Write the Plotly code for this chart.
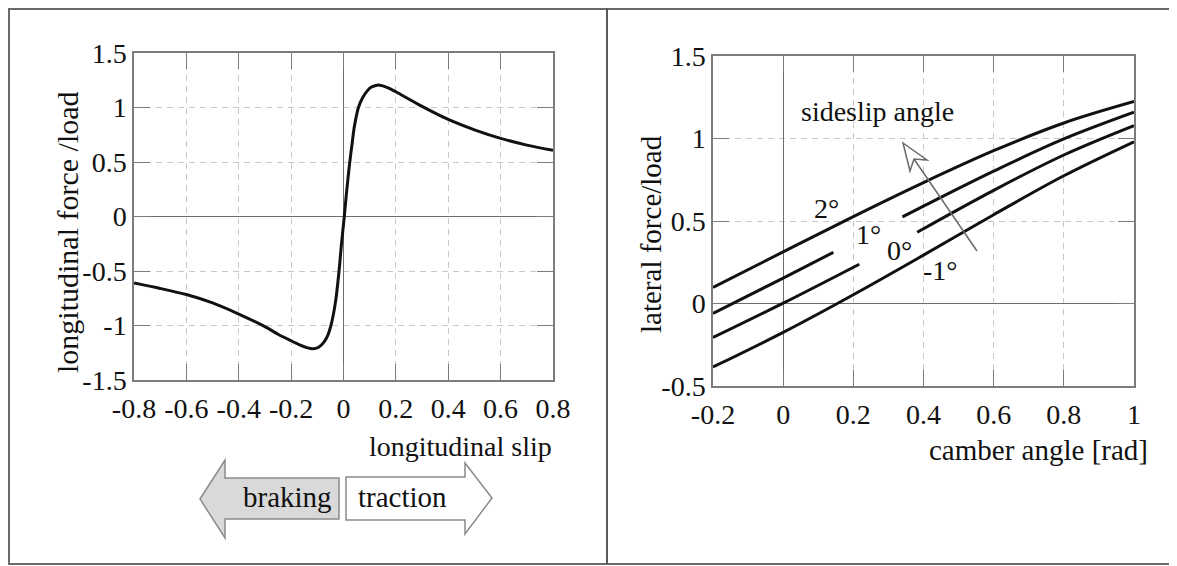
import plotly.graph_objects as go

# The page places the figure 8 px from the top-left corner (default body margin),
# so the figure covers page pixels 8..1177 x 8..566.
PAGE_W, PAGE_H = 1177, 566
OFF = 8
W, H = PAGE_W - OFF, PAGE_H - OFF
FONT = "Liberation Serif"
TXT = "#111111"
GRAYLINE = "#7c7c7c"

# ---------------- data: left panel (longitudinal) ----------------
slip = [-0.8, -0.7, -0.6, -0.5, -0.4, -0.3, -0.25, -0.2, -0.17, -0.14, -0.118, -0.095,
        -0.074, -0.06, -0.048, -0.038, -0.029, -0.017, -0.008, 0.003, 0.012, 0.024, 0.033,
        0.041, 0.057, 0.073, 0.09, 0.105, 0.128, 0.15, 0.175, 0.2, 0.3, 0.4, 0.5, 0.6,
        0.7, 0.8]
long_force = [-0.61, -0.66, -0.716, -0.793, -0.895, -1.01, -1.08, -1.14, -1.175, -1.203,
              -1.214, -1.2, -1.15, -1.09, -1.0, -0.89, -0.758, -0.5, -0.26, 0.0, 0.23, 0.5,
              0.67, 0.818, 1.0, 1.09, 1.15, 1.185, 1.205, 1.198, 1.175, 1.144, 1.01, 0.89,
              0.795, 0.717, 0.655, 0.607]

slip_ticks = [-0.8, -0.6, -0.4, -0.2, 0, 0.2, 0.4, 0.6, 0.8]
slip_ticktext = ["-0.8", "-0.6", "-0.4", "-0.2", "0", "0.2", "0.4", "0.6", "0.8"]
lf_ticks = [-1.5, -1, -0.5, 0, 0.5, 1, 1.5]
lf_ticktext = ["-1.5", "-1", "-0.5", "0", "0.5", "1", "1.5"]

# ---------------- data: right panel (lateral vs camber) ----------------
camber_2 = [-0.2, 0.0, 0.2, 0.4, 0.6, 0.8, 1.0]
lat_2 = [0.097, 0.313, 0.527, 0.733, 0.926, 1.094, 1.224]
camber_1 = [-0.2, 0.0, 0.143, None, 0.34, 0.4, 0.6, 0.8, 1.0]
lat_1 = [-0.06, 0.154, 0.31, None, 0.525, 0.59, 0.802, 0.997, 1.159]
camber_0 = [-0.2, 0.0, 0.217, None, 0.382, 0.6, 0.8, 1.0]
lat_0 = [-0.206, 0.002, 0.238, None, 0.432, 0.686, 0.90, 1.078]
camber_m1 = [-0.2, 0.0, 0.2, 0.4, 0.6, 0.8, 1.0]
lat_m1 = [-0.385, -0.175, 0.053, 0.293, 0.538, 0.774, 0.98]

camber_ticks = [-0.2, 0, 0.2, 0.4, 0.6, 0.8, 1.0]
camber_ticktext = ["-0.2", "0", "0.2", "0.4", "0.6", "0.8", "1"]
lat_ticks = [-0.5, 0, 0.5, 1, 1.5]
lat_ticktext = ["-0.5", "0", "0.5", "1", "1.5"]

angle_labels = ["2°", "1°", "0°", "-1°"]
angle_label_x = [0.124, 0.244, 0.333, 0.449]
angle_label_y = [0.576, 0.42, 0.323, 0.202]

# ---------------- layout geometry (page pixels) ----------------
L_PLOT = (134, 553, 53, 380)    # x0, x1, ytop, ybottom
R_PLOT = (713, 1134, 56, 386)


def px(x):
    return (x - OFF) / W


def py(y):
    return 1 - (y - OFF) / H


def path(points):
    return "M " + " L ".join(f"{px(x):.5f},{py(y):.5f}" for x, y in points) + " Z"


fig = go.Figure()

fig.add_trace(go.Scatter(x=slip, y=long_force, mode="lines", xaxis="x", yaxis="y",
                         line=dict(color="#111111", width=3, shape="spline", smoothing=0.7),
                         hoverinfo="skip"))
for cx, ly in [(camber_2, lat_2), (camber_1, lat_1), (camber_0, lat_0), (camber_m1, lat_m1)]:
    fig.add_trace(go.Scatter(x=cx, y=ly, mode="lines", xaxis="x2", yaxis="y2",
                             connectgaps=False,
                             line=dict(color="#111111", width=3, shape="spline", smoothing=1.0),
                             hoverinfo="skip"))

axis_common = dict(
    showline=True, linecolor=GRAYLINE, linewidth=1.5, mirror="ticks",
    ticks="inside", ticklen=16, tickcolor=GRAYLINE, tickwidth=1.2,
    showgrid=True, gridcolor="#c8c8c8", griddash="6px,5px", gridwidth=1,
    zeroline=True, zerolinecolor="#6e6e6e", zerolinewidth=1.2,
    tickfont=dict(family=FONT, size=28, color=TXT),
    automargin=False, fixedrange=True, tickmode="array",
)

fig.update_layout(
    width=W, height=H, margin=dict(l=0, r=0, t=0, b=0),
    paper_bgcolor="white", plot_bgcolor="white", showlegend=False, template="none",
    xaxis=dict(domain=[px(L_PLOT[0]), px(L_PLOT[1])], range=[-0.8, 0.8], anchor="y",
               tickvals=slip_ticks, ticktext=slip_ticktext, ticklabelstandoff=3, **axis_common),
    yaxis=dict(domain=[py(L_PLOT[3]), py(L_PLOT[2])], range=[-1.5, 1.5], anchor="x",
               tickvals=lf_ticks, ticktext=lf_ticktext, ticklabelstandoff=0, **axis_common),
    xaxis2=dict(domain=[px(R_PLOT[0]), px(R_PLOT[1])], range=[-0.2, 1.0], anchor="y2",
                tickvals=camber_ticks, ticktext=camber_ticktext, ticklabelstandoff=3, **axis_common),
    yaxis2=dict(domain=[py(R_PLOT[3]), py(R_PLOT[2])], range=[-0.5, 1.5], anchor="x2",
                tickvals=lat_ticks, ticktext=lat_ticktext, ticklabelstandoff=0, **axis_common),
)

annotations = []


def text(t, x, y, xanchor="center", yanchor="middle", size=29, angle=0, xref="paper", yref="paper"):
    annotations.append(dict(text=t, x=x, y=y, xref=xref, yref=yref, xanchor=xanchor,
                            yanchor=yanchor, showarrow=False, textangle=angle,
                            font=dict(family=FONT, size=size, color=TXT)))


# axis titles
text("longitudinal slip", px(554), py(446), xanchor="right", size=28)
text("longitudinal force /load", px(67), py(232), angle=-90, size=30)
text("lateral force/load", px(651), py(234), angle=-90, size=29)
text("camber angle [rad]", px(1150), py(450), xanchor="right", size=29)

# right panel labels
text("sideslip angle", 0.269, 1.161, size=28, xref="x2", yref="y2")
for t, x, y in zip(angle_labels, angle_label_x, angle_label_y):
    text(t, x, y, size=28, xref="x2", yref="y2")

# braking / traction labels
text("braking", px(334), py(497), xanchor="right", size=29)
text("traction", px(356), py(497), xanchor="left", size=29)

fig.update_layout(annotations=annotations)

shapes = []
# outer frame and divider
shapes.append(dict(type="rect", xref="paper", yref="paper", x0=px(9), x1=px(1175),
                   y0=py(564), y1=py(9), line=dict(color="#6a6a6a", width=2), layer="below"))
shapes.append(dict(type="line", xref="paper", yref="paper", x0=px(607), x1=px(607),
                   y0=py(564), y1=py(8), line=dict(color="#5a5a5a", width=2)))

# braking arrow (grey, pointing left)
shapes.append(dict(type="path", xref="paper", yref="paper",
                   path=path([(200, 499), (225, 460), (225, 478), (339, 478), (339, 519),
                              (225, 519), (225, 538)]),
                   fillcolor="#d9d9d9", line=dict(color="#8a8a8a", width=1.5)))
# traction arrow (white, pointing right)
shapes.append(dict(type="path", xref="paper", yref="paper",
                   path=path([(346, 477), (465, 477), (465, 463), (492, 498), (465, 534),
                              (465, 520), (346, 520)]),
                   fillcolor="white", line=dict(color="#8a8a8a", width=1.5)))

# sideslip-angle arrow (hollow head)
shapes.append(dict(type="line", xref="paper", yref="paper",
                   x0=px(977), y0=py(251), x1=px(914), y1=py(159),
                   line=dict(color="#6a6a6a", width=1.5)))
shapes.append(dict(type="path", xref="paper", yref="paper",
                   path=path([(903, 143), (927, 160), (914, 159), (910, 171)]),
                   fillcolor="white", line=dict(color="#6a6a6a", width=1.5)))

fig.update_layout(shapes=shapes)

fig.write_html("out.html")
